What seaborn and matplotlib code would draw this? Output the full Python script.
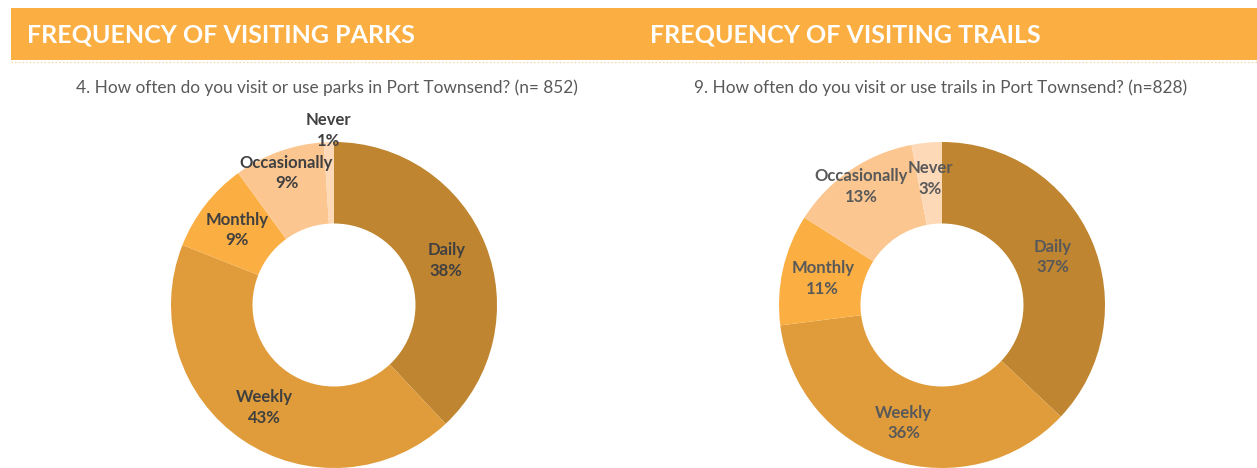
import numpy as np
import matplotlib
matplotlib.use('Agg')
import matplotlib.pyplot as plt
import seaborn as sns

# ── Dados ─────────────────────────────────────────────────────────────────────
categorias = ['Daily', 'Weekly', 'Monthly', 'Occasionally', 'Never']
parques    = [38, 43, 9, 9, 1]
trilhos    = [37, 36, 11, 13, 3]

titulo_parques   = 'FREQUENCY OF VISITING PARKS'
titulo_trilhos   = 'FREQUENCY OF VISITING TRAILS'
pergunta_parques = '4. How often do you visit or use parks in Port Townsend? (n= 852)'
pergunta_trilhos = '9. How often do you visit or use trails in Port Townsend? (n=828)'

# ── Estilo ────────────────────────────────────────────────────────────────────
sns.set_theme(style='white')
plt.rcParams['font.family'] = ['Lato', 'DejaVu Sans']

cores = sns.color_palette(['#BF8530', '#E09C3A', '#FBAE42', '#FCC690', '#FDD9B8'])
LARANJA = '#FBAE42'

W, H = 1257, 468
fig = plt.figure(figsize=(W / 100, H / 100), dpi=100)

# barra laranja do cabeçalho
fig.add_artist(plt.Rectangle((11 / W, 1 - 60 / H), 1, 52 / H, transform=fig.transFigure,
                             color=LARANJA, lw=0))
fig.add_artist(plt.Line2D([11 / W, 1], [1 - 61.5 / H] * 2, transform=fig.transFigure,
                          color='#F7D7A8', lw=1, ls=':'))

fig.text(27 / W, 1 - 35 / H, titulo_parques, color='white', fontsize=18,
         fontweight='bold', va='center', ha='left')
fig.text(650 / W, 1 - 35 / H, titulo_trilhos, color='white', fontsize=18,
         fontweight='bold', va='center', ha='left')
fig.text(327 / W, 1 - 88 / H, pergunta_parques, color='#595959', fontsize=12.4,
         va='center', ha='center')
fig.text(941 / W, 1 - 88 / H, pergunta_trilhos, color='#595959', fontsize=12.4,
         va='center', ha='center')


def donut(cx, cy, valores, raios_label, cor_texto):
    R = 163
    pad = 172
    ax = fig.add_axes([(cx - pad) / W, 1 - (cy + pad) / H, 2 * pad / W, 2 * pad / H])
    wedges, _ = ax.pie(valores, colors=cores, startangle=90, counterclock=False,
                       radius=1, wedgeprops=dict(width=0.5, linewidth=0))
    lim = pad / R
    ax.set_xlim(-lim, lim)
    ax.set_ylim(-lim, lim)
    ax.set_aspect('equal')
    ax.axis('off')
    for w, cat, v, r in zip(wedges, categorias, valores, raios_label):
        ang = np.deg2rad((w.theta1 + w.theta2) / 2)
        ax.text(r * np.cos(ang), r * np.sin(ang), f'{cat}\n{v}%', ha='center', va='center',
                fontsize=12, fontweight='bold', color=cor_texto, linespacing=1.35)
    return ax


donut(334, 305, parques, [0.74, 0.76, 0.75, 0.86, 1.07], '#404040')
donut(942, 305, trilhos, [0.74, 0.76, 0.75, 0.88, 0.78], '#595959')

plt.savefig('out.png', dpi=100)
plt.close()
